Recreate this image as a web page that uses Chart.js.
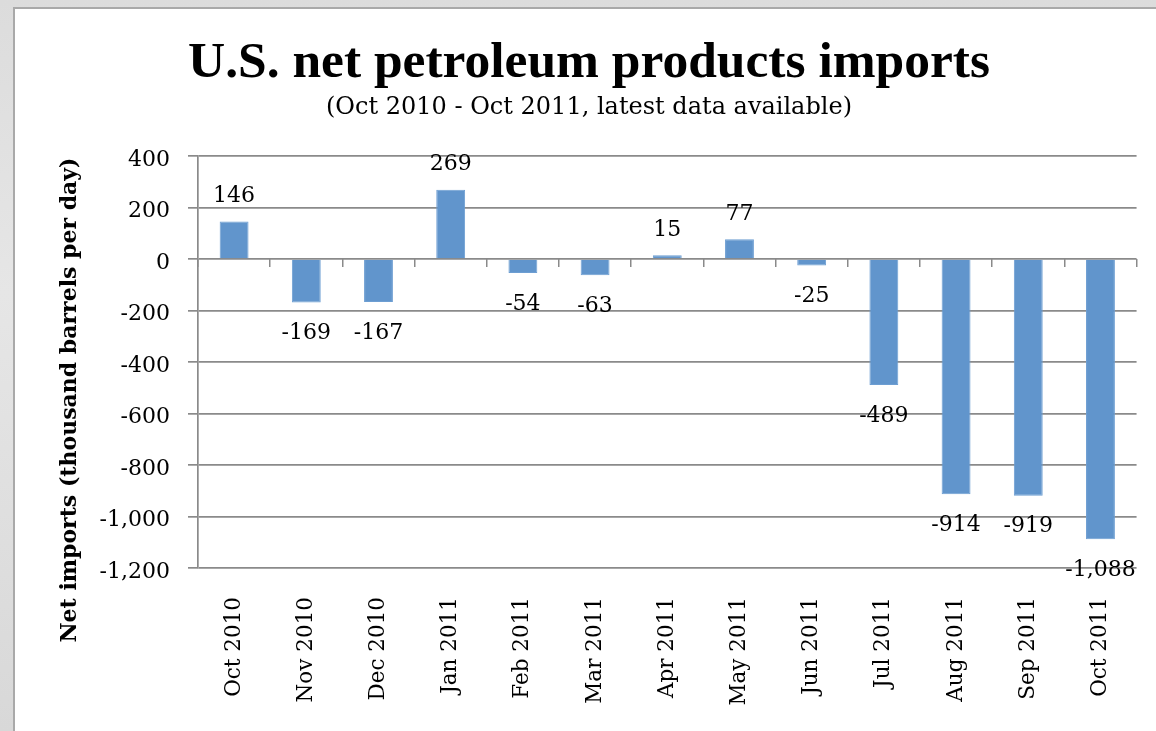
<!DOCTYPE html>
<html>
<head>
<meta charset="utf-8">
<script src="https://cdn.jsdelivr.net/npm/chart.js@4"></script>
<style>
  html, body { margin: 0; padding: 0; width: 1156px; height: 731px; overflow: hidden; }
  body { background: linear-gradient(to bottom, #dcdcdc, #e6e6e6 40%, #d8d8d8); position: relative; }
  #panel { position: absolute; left: 13px; top: 7px; right: 0; bottom: 0; background: #fff;
           border-left: 2px solid #a9a9a9; border-top: 2px solid #a9a9a9; }
  #wrap { position: absolute; left: 0; top: 0; width: 1156px; height: 731px; }
</style>
</head>
<body>
<div id="panel"></div>
<div id="wrap"><canvas id="c" width="1156" height="731"></canvas></div>
<script>
const titleText = "U.S. net petroleum products imports";
const subtitleText = "(Oct 2010 - Oct 2011, latest data available)";
const yAxisTitle = "Net imports (thousand barrels per day)";
const categories = ["Oct 2010","Nov 2010","Dec 2010","Jan 2011","Feb 2011","Mar 2011","Apr 2011","May 2011","Jun 2011","Jul 2011","Aug 2011","Sep 2011","Oct 2011"];
const netImports = [146, -169, -167, 269, -54, -63, 15, 77, -25, -489, -914, -919, -1088];
const yMin = -1200, yMax = 400, yStep = 200;

const SERIF = "'DejaVu Serif', serif";
const GRID = '#8a8a8a';
const fmt = v => v.toLocaleString('en-US');

const titlesPlugin = {
  id: 'titles',
  afterDraw(chart) {
    const ctx = chart.ctx;
    ctx.save();
    ctx.fillStyle = '#000';
    ctx.textAlign = 'center';
    ctx.textBaseline = 'middle';
    ctx.font = "bold 51.5px 'Liberation Serif', serif";
    ctx.fillText(titleText, 589, 64);
    ctx.font = "24px " + SERIF;
    ctx.fillText(subtitleText, 589, 108);
    ctx.translate(70, 400);
    ctx.rotate(-Math.PI / 2);
    ctx.font = "bold 22px " + SERIF;
    ctx.fillText(yAxisTitle, 0, 0);
    ctx.restore();
  }
};

const labelsPlugin = {
  id: 'valueLabels',
  afterDatasetsDraw(chart) {
    const ctx = chart.ctx;
    const meta = chart.getDatasetMeta(0);
    ctx.save();
    ctx.fillStyle = '#000';
    ctx.font = "22px " + SERIF;
    ctx.textAlign = 'center';
    ctx.textBaseline = 'middle';
    meta.data.forEach((bar, i) => {
      const v = chart.data.datasets[0].data[i];
      const y = v >= 0 ? bar.y - 25 : bar.y + 31;
      ctx.fillText(fmt(v), bar.x, y);
    });
    ctx.restore();
  }
};

new Chart(document.getElementById('c'), {
  type: 'bar',
  data: {
    labels: categories,
    datasets: [{
      data: netImports,
      backgroundColor: '#6195cc',
      borderColor: '#6d9ed2',
      borderWidth: 1,
      categoryPercentage: 1,
      barPercentage: 0.4
    }]
  },
  options: {
    responsive: false,
    animation: false,
    devicePixelRatio: 1,
    layout: { padding: { top: 156, right: 19, bottom: 0, left: 0 } },
    plugins: { legend: { display: false }, tooltip: { enabled: false }, title: { display: false } },
    scales: {
      x: {
        position: 'bottom',
        offset: true,
        grid: { display: false, drawTicks: false },
        border: { display: false },
        ticks: {
          color: '#000', font: { family: SERIF, size: 21.5 },
          minRotation: 90, maxRotation: 90, padding: 29, autoSkip: false
        },
        afterFit(s) { s.height = 163; }
      },
      x2: {
        type: 'category',
        position: { y: 0 },
        offset: true,
        grid: { offset: true, drawOnChartArea: false, drawTicks: true, tickLength: 8, color: GRID, lineWidth: 1.5 },
        border: { display: false },
        ticks: { display: false }
      },
      y: {
        min: yMin, max: yMax,
        ticks: {
          stepSize: yStep, color: '#000', font: { family: SERIF, size: 22 },
          padding: 18, labelOffset: 4, callback: v => fmt(v)
        },
        grid: { color: GRID, lineWidth: 1.7, tickLength: 10, drawTicks: true },
        border: { display: true, color: GRID, width: 1.7 },
        afterFit(s) { s.width = 198; }
      }
    }
  },
  plugins: [titlesPlugin, labelsPlugin]
});
</script>
</body>
</html>
